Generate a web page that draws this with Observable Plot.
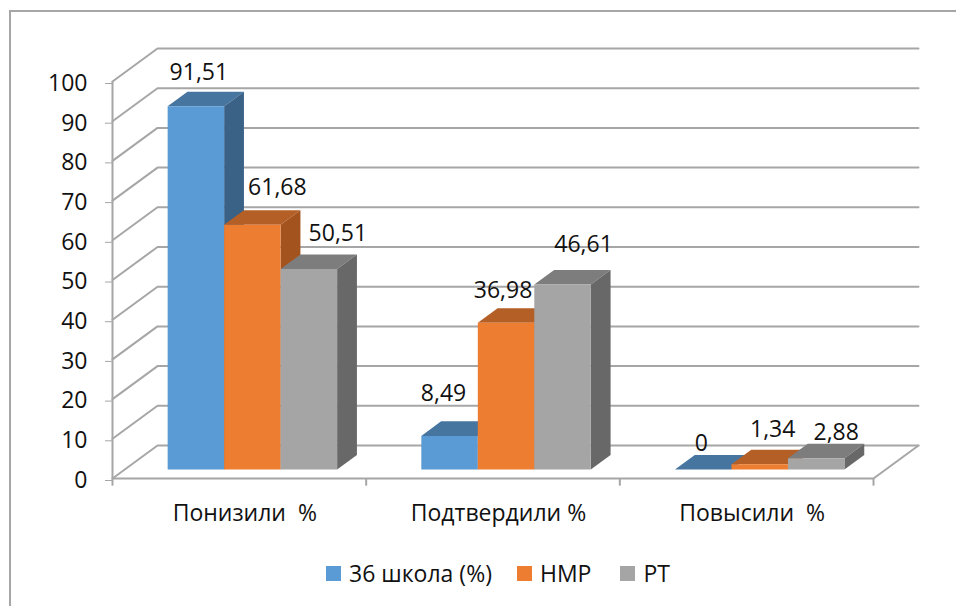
<!DOCTYPE html>
<html><head><meta charset="utf-8">
<script src="https://cdn.jsdelivr.net/npm/d3@7"></script>
<script src="https://cdn.jsdelivr.net/npm/@observablehq/plot@0.6"></script>
<style>
html,body{margin:0;padding:0;background:#fff;overflow:hidden;width:956px;height:606px}
#frame{position:absolute;left:9px;top:10px;width:1000px;height:1000px;border:2px solid #a6a6a6;box-sizing:border-box}
#chart{position:absolute;left:0;top:0}
#chart svg{background:transparent}
svg text{white-space:pre}
#legend{position:absolute;left:326px;top:558px;display:flex;align-items:center;font:23px "Open Sans",sans-serif;color:#111;height:30px}
#legend i{display:inline-block;width:15px;height:15px;margin-right:8px}
#legend span{display:flex;align-items:center;white-space:pre}
</style></head><body>
<div id="frame"></div><div id="chart"></div><div id="legend"></div>
<script>
const categories = ["Понизили  %", "Подтвердили %", "Повысили  %"];
const seriesNames = ["36 школа (%)", "НМР", "РТ"];
const school36 = [91.51, 8.49, 0];
const nmr = [61.68, 36.98, 1.34];
const rt = [50.51, 46.61, 2.88];
const yTicks = d3.range(0, 101, 10);

const seriesValues = [school36, nmr, rt];
const faces = [
  {front: "#5B9BD5", top: "#4675A0", side: "#3A6186"},
  {front: "#ED7D31", top: "#B45F26", side: "#A3531E"},
  {front: "#A5A5A5", top: "#7D7D7D", side: "#686868"}
];
const legendGaps = [25, 29, 0];

// oblique projection, expressed in data units of the two scales
const depthX = 0.1774, depthY = 8.31;
const project = (x, v, t) => ({x: x + t * depthX, y: v + t * depthY});
const barGap = 0.1695, barW = 0.2227, t0 = 0.27, t1 = 0.71;

const poly = (pts, fill) => Plot.line(pts, {x: "x", y: "y", fill, stroke: "none", curve: "linear"});
const lineColor = "#a6a6a6";
const wall = (pts) => Plot.line(pts, {x: "x", y: "y", stroke: lineColor, strokeWidth: 2, curve: "linear"});

const marks = [];
// wall + floor lines
for (const v of yTicks) marks.push(wall([project(0, v, 0), project(0, v, 1), project(3, v, 1)]));
marks.push(wall([project(3, 0, 1), project(3, 0, 0), project(0, 0, 0)]));
marks.push(Plot.ruleX([0], {y1: 0, y2: 100, stroke: lineColor, strokeWidth: 2}));

// axes
marks.push(Plot.axisY({ticks: yTicks, tickSize: 7, tickPadding: 18, stroke: lineColor, label: null,
  fontSize: 23, tickFormat: d => d, textStroke: "none", color: "#111", dy: 2}));
marks.push(Plot.link([0, 1, 2, 3], {x1: d => d, x2: d => d, y1: 0, y2: -1.8, stroke: lineColor, strokeWidth: 2}));

// 3D bars
categories.forEach((_, i) => {
  seriesValues.forEach((vals, j) => {
    const v = vals[i];
    const xa = i + barGap + j * barW, xb = xa + barW;
    const c = faces[j];
    marks.push(poly([project(xa, v, t0), project(xb, v, t0), project(xb, v, t1), project(xa, v, t1)], c.top));
    marks.push(poly([project(xb, 0, t0), project(xb, v, t0), project(xb, v, t1), project(xb, 0, t1)], c.side));
    if (v > 0) marks.push(poly([project(xa, 0, t0), project(xb, 0, t0), project(xb, v, t0), project(xa, v, t0)], c.front));
  });
});

// category labels
marks.push(Plot.text(categories, {x: (d, i) => i + 0.5, y: () => 0, dx: 5.5, dy: 35, text: d => d,
  fontSize: 23, fill: "#111", textAnchor: "middle"}));

// data labels, nudged from the top front edge of their bar
const nudges = [
  [[3,-34],[25,-37],[29,-35]],
  [[-6,-42],[-3,-32],[21,-40]],
  [[-2,-26],[13,-35],[20,-26]]
];
categories.forEach((_, i) => seriesValues.forEach((vals, j) => {
  const v = vals[i];
  const p = project(i + barGap + (j + 0.5) * barW, v, t0);
  marks.push(Plot.text([p], {x: "x", y: "y", text: () => String(v).replace(".", ","),
    dx: nudges[i][j][0], dy: nudges[i][j][1], fontSize: 23, fill: "#111"}));
}));

const plot = Plot.plot({
  width: 956, height: 556,
  marginLeft: 112, marginRight: 83, marginTop: 81, marginBottom: 78,
  x: {type: "linear", domain: [0, 3], axis: null},
  y: {type: "linear", domain: [0, 100], axis: null},
  style: {fontFamily: '"Open Sans",sans-serif', background: "transparent", overflow: "visible"},
  marks
});
document.getElementById("chart").append(plot);

const legend = document.getElementById("legend");
seriesNames.forEach((n, j) => {
  const s = document.createElement("span");
  s.style.marginRight = legendGaps[j] + "px";
  const sw = document.createElement("i");
  sw.style.background = faces[j].front;
  s.append(sw, document.createTextNode(n));
  legend.append(s);
});
</script></body></html>
